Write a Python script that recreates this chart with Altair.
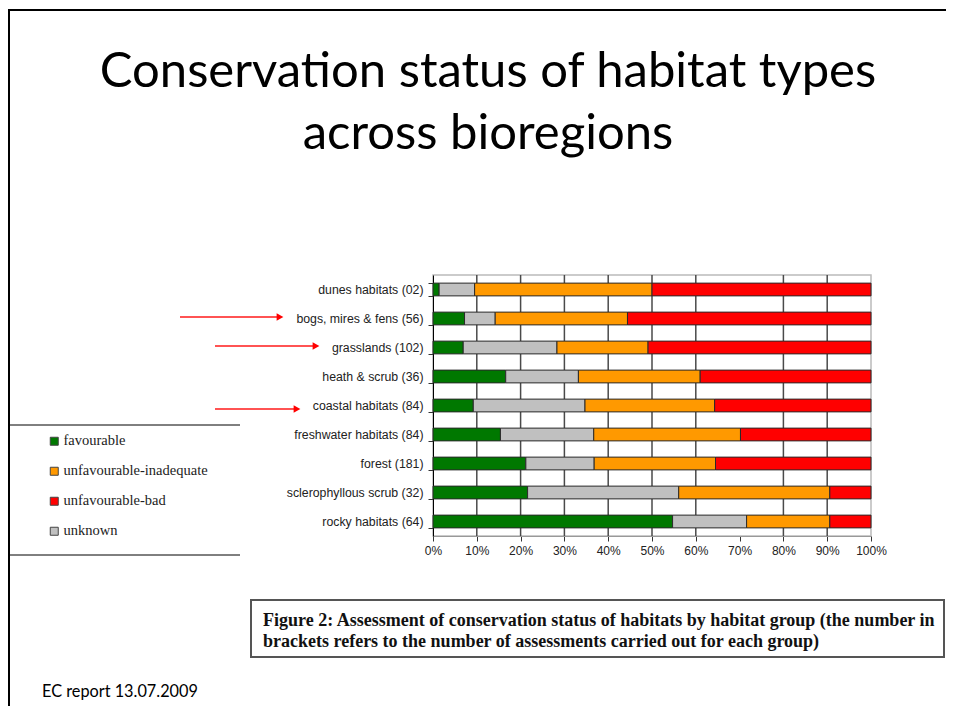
import altair as alt
import pandas as pd

# ---------------- data ----------------
HABITATS = [
    "dunes habitats (02)",
    "bogs, mires & fens (56)",
    "grasslands (102)",
    "heath & scrub (36)",
    "coastal habitats (84)",
    "freshwater habitats (84)",
    "forest (181)",
    "sclerophyllous scrub (32)",
    "rocky habitats (64)",
]
FAVOURABLE = [1.4, 7.2, 6.9, 16.6, 9.2, 15.4, 21.2, 21.6, 54.7]
UNKNOWN = [8.1, 7.0, 21.4, 16.6, 25.5, 21.3, 15.6, 34.5, 16.9]
INADEQUATE = [40.5, 30.2, 20.8, 27.8, 29.6, 33.5, 27.7, 34.5, 19.0]
BAD = [50.0, 55.6, 50.9, 39.0, 35.7, 29.8, 35.5, 9.4, 9.4]

STATUS_LEGEND = ["favourable", "unfavourable-inadequate", "unfavourable-bad", "unknown"]
STATUS_STACK = ["favourable", "unknown", "unfavourable-inadequate", "unfavourable-bad"]
COLORS = ["#007800", "#ff9900", "#ff0000", "#c0c0c0"]
X_TICKS = [0, 0.1, 0.2, 0.3, 0.4, 0.5, 0.6, 0.7, 0.8, 0.9, 1.0]
GRID_LINES = [0.1, 0.2, 0.3, 0.4, 0.5, 0.6, 0.8, 0.9]

TITLE_LINES = ["Conservation status of habitat types", "across bioregions"]
CAPTION_LINES = [
    "Figure 2: Assessment of conservation status of habitats by habitat group (the number in",
    "brackets refers to the number of assessments carried out for each group)",
]
FOOTER = "EC report 13.07.2009"

series = {
    "favourable": FAVOURABLE,
    "unknown": UNKNOWN,
    "unfavourable-inadequate": INADEQUATE,
    "unfavourable-bad": BAD,
}
rows = []
for status, vals in series.items():
    for h, v in zip(HABITATS, vals):
        rows.append({"habitat": h, "status": status, "value": v,
                     "rank": STATUS_STACK.index(status)})
df = pd.DataFrame(rows)
grid_df = pd.DataFrame({"v": GRID_LINES})
one = pd.DataFrame({"a": [0]})

# ---------------- layout helpers (page pixel -> plot pixel) ----------------
OX, OY = 433, 275          # page position of plot origin
PW, PH = 438, 261          # plot size


def px(x):
    return x - OX


def py(y):
    return y - OY


def hline(x1, x2, y, color="black", width=1.0):
    return alt.Chart(one).mark_rule(color=color, strokeWidth=width).encode(
        x=alt.value(px(x1)), x2=alt.value(px(x2)), y=alt.value(py(y)))


def vline(x, y1, y2, color="black", width=1.0):
    return alt.Chart(one).mark_rule(color=color, strokeWidth=width).encode(
        x=alt.value(px(x)), y=alt.value(py(y1)), y2=alt.value(py(y2)))


def arrow(x1, x2, y):
    line = hline(x1, x2 - 5, y, color="#ff1a1a", width=1.5)
    head = alt.Chart(one).mark_point(shape="triangle-right", filled=True, color="#ff0000",
                                     size=60, opacity=1).encode(
        x=alt.value(px(x2 - 4)), y=alt.value(py(y)))
    return [line, head]


xscale = alt.Scale(domain=[0, 1])
xaxis = alt.Axis(values=X_TICKS, format=".0%", grid=False, tickSize=5,
                 tickColor="#333", domainColor="#999", labelPadding=4,
                 labelFont="Liberation Sans", labelFontSize=12,
                 labelColor="#222", labelFlush=False, title=None)

grid = alt.Chart(grid_df).mark_rule(color="#4a4a4a", strokeWidth=1.5).encode(
    x=alt.X("v:Q", scale=xscale, axis=xaxis, title=None))

bars = alt.Chart(df).mark_bar(stroke="#2a2a2a", strokeWidth=1).encode(
    x=alt.X("value:Q", stack="normalize", scale=xscale, title=None, axis=xaxis),
    y=alt.Y("habitat:N", sort=HABITATS, title=None,
            scale=alt.Scale(paddingInner=0.56, paddingOuter=0.28),
            axis=alt.Axis(tickBand="extent", tickSize=5, tickColor="#333",
                          domainColor="#000", labelPadding=5,
                          labelFont="Liberation Sans", labelFontSize=12.3,
                          labelColor="#222", grid=False)),
    color=alt.Color("status:N",
                    scale=alt.Scale(domain=STATUS_LEGEND, range=COLORS),
                    legend=alt.Legend(orient="none", legendX=px(47), legendY=py(434),
                                      title=None, symbolType="square", symbolSize=64,
                                      symbolStrokeColor="#444", symbolStrokeWidth=1,
                                      labelFont="Liberation Serif", labelFontSize=14.5,
                                      labelColor="#222", labelOffset=2, rowPadding=15,
                                      padding=0)),
    order=alt.Order("rank:Q"),
)

title = alt.Chart(one).mark_text(
    text=TITLE_LINES, font="Lato", fontSize=49, color="#000", align="center",
    baseline="alphabetic", lineHeight=62).encode(
    x=alt.value(px(488)), y=alt.value(py(87)))

caption_box = alt.Chart(one).mark_rect(fill="white", stroke="#555", strokeWidth=2).encode(
    x=alt.value(px(251)), x2=alt.value(px(944)), y=alt.value(py(600)), y2=alt.value(py(657)))

caption = alt.Chart(one).mark_text(
    text=CAPTION_LINES, font="Liberation Serif", fontWeight="bold", fontSize=18,
    color="#111", align="left", baseline="alphabetic", lineHeight=21).encode(
    x=alt.value(px(263)), y=alt.value(py(626)))

footer = alt.Chart(one).mark_text(
    text=FOOTER, font="Lato", fontSize=16.3, color="#000", align="left",
    baseline="alphabetic").encode(x=alt.value(px(42)), y=alt.value(py(697)))

layers = [
    hline(8, 946, 10, width=2),         # slide frame top
    vline(9, 10, 710, width=2),          # slide frame left
    hline(10, 240, 425),                 # legend box top
    hline(10, 240, 555),                 # legend box bottom
    title, caption_box, caption, footer,
    grid, bars,
]
layers += arrow(180, 284, 317)
layers += arrow(215, 320, 346)
layers += arrow(215, 301, 409)

chart = alt.layer(*layers).properties(
    width=PW, height=PH,
    autosize=alt.AutoSizeParams(type="none"),
    padding={"left": OX - 8, "top": OY - 8, "right": 75, "bottom": 170},
).configure_view(stroke="#bbbbbb", strokeWidth=1.5)

chart.save("out.html", embed_options={"renderer": "svg", "actions": False})
